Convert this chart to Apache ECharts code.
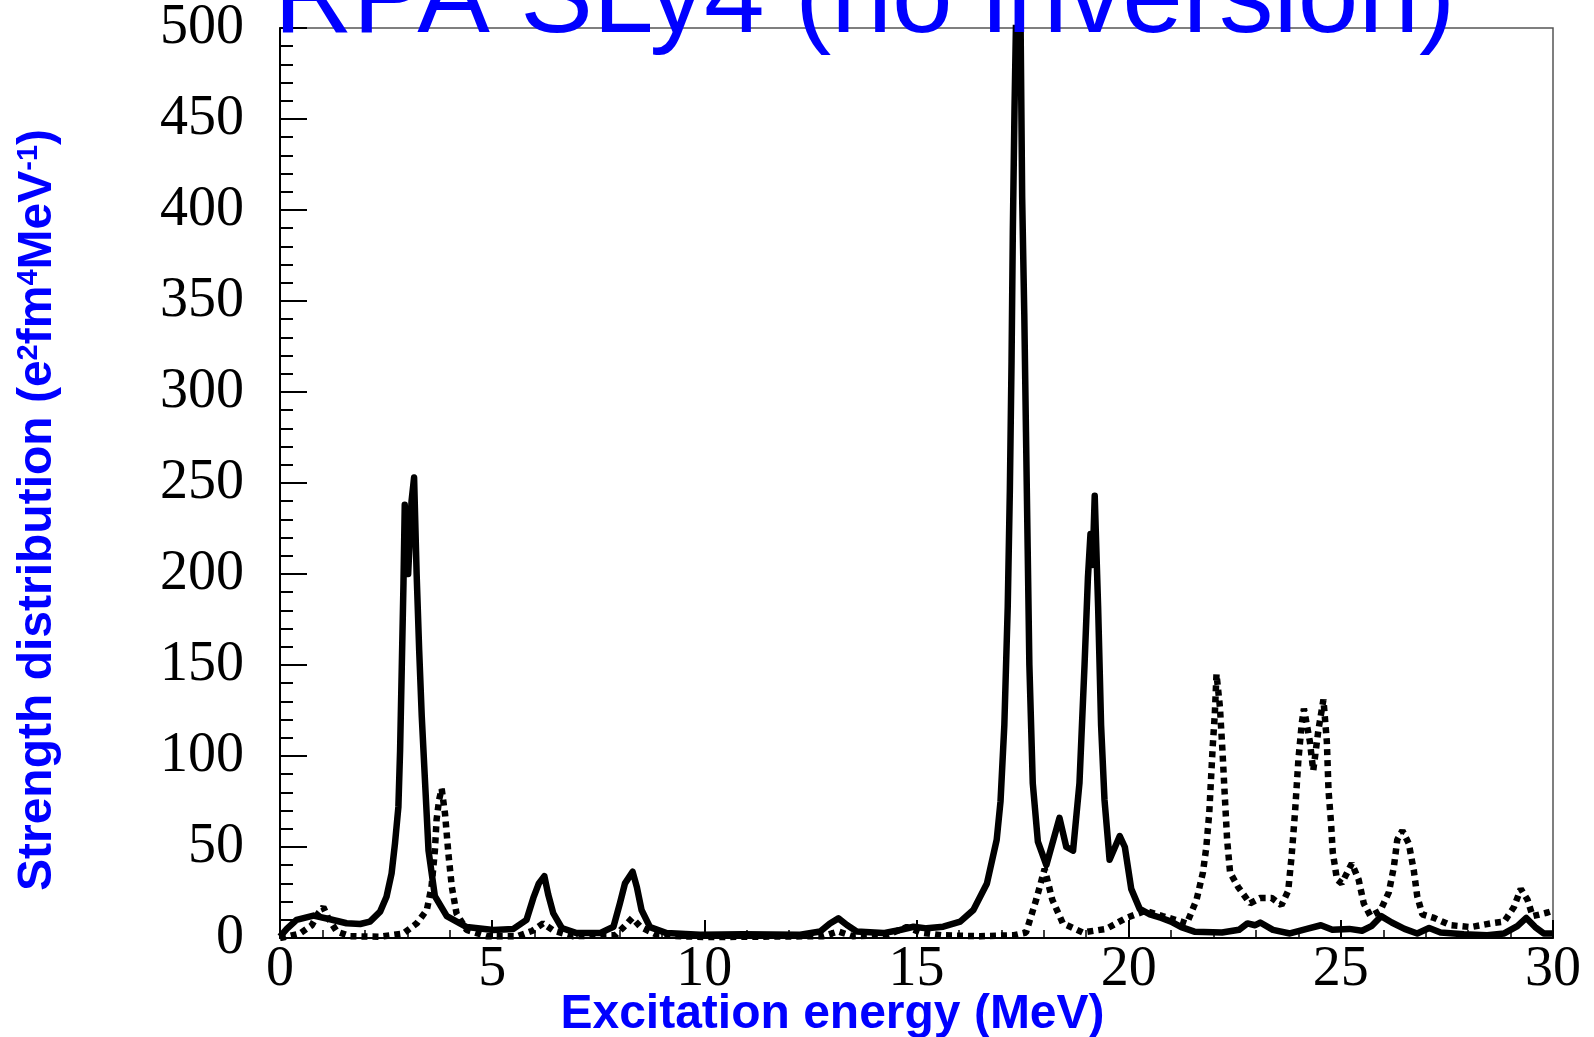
<!DOCTYPE html>
<html>
<head>
<meta charset="utf-8">
<title>RPA SLy4 (no inversion)</title>
<script src="https://cdn.jsdelivr.net/npm/echarts@6/dist/echarts.min.js"></script>
<style>
  html, body { margin: 0; padding: 0; background: #ffffff; }
  #chart { width: 1594px; height: 1037px; }
</style>
</head>
<body>
<div id="chart"></div>
<script>
// Strength distributions, energies in MeV, strengths in e^2 fm^4 MeV^-1
const solidEnergy = [
  0, 0.16, 0.39, 0.79, 1.18, 1.57, 1.89, 2.12, 2.36, 2.51, 2.63, 2.71, 2.79, 2.83, 2.87, 2.91, 2.94, 3.02, 3.1, 3.16,
  3.22, 3.28, 3.34, 3.42, 3.5, 3.65, 3.93, 4.4, 5.03, 5.5, 5.81, 5.97, 6.1, 6.23, 6.32, 6.44, 6.64, 6.99, 7.54, 7.86,
  8.01, 8.13, 8.31, 8.41, 8.52, 8.72, 9.11, 9.9, 10.9, 12.26, 12.73, 12.96, 13.16, 13.36, 13.59, 14.22, 14.61, 14.93, 15.24, 15.63,
  16.03, 16.34, 16.66, 16.89, 16.98, 17.07, 17.15, 17.2, 17.24, 17.27, 17.31, 17.35, 17.4, 17.45, 17.49, 17.54, 17.58, 17.62, 17.66, 17.74,
  17.86, 18.06, 18.37, 18.53, 18.69, 18.84, 18.96, 19.04, 19.1, 19.15, 19.2, 19.28, 19.35, 19.43, 19.55, 19.79, 19.91, 20.06, 20.26, 20.5,
  20.77, 21.0, 21.24, 21.55, 22.2, 22.6, 22.8, 22.98, 23.1, 23.4, 23.8, 24.2, 24.53, 24.8, 25.2, 25.5, 25.72, 25.95, 26.2, 26.5,
  26.8, 27.08, 27.35, 27.9, 28.45, 28.85, 29.16, 29.37, 29.58, 29.78, 30
];
const solidStrength = [
  0.7, 5, 10, 12.3, 10.3, 8.1, 7.7, 9, 14.5, 22.7, 35.5, 52, 72, 103, 149, 195, 238, 200, 240, 253,
  200, 158, 122, 85, 48, 23, 12, 6, 4.4, 5, 10, 22, 30, 34, 24, 13.6, 5.5, 2.7, 2.7, 6.2,
  19, 30, 36.4, 28, 15.4, 6, 2.7, 1.8, 2, 1.8, 3.6, 8, 10.8, 7.1, 3.6, 2.7, 4.4, 6.2, 5.3, 6.2,
  9, 15.4, 30, 54, 75, 117, 182, 246, 317, 388, 456, 510, 540, 510, 407, 343, 278, 214, 150, 85,
  53, 40, 66, 50, 48, 85, 150, 198, 222, 205, 243, 182, 117, 76, 43, 56, 50, 27, 16, 13,
  11, 9, 6, 3.5, 3, 4.5, 8, 7, 8.5, 4.5, 2.5, 5, 7, 4.5, 5, 4, 6.5, 12, 8.5, 5,
  2.5, 5.5, 3, 2, 1.5, 2.5, 6.5, 11, 6, 2.5, 2.5
];

const dottedEnergy = [
  0, 0.16, 0.47, 0.75, 0.9, 1.02, 1.14, 1.34, 1.65, 2.36, 2.91, 3.22, 3.46, 3.57, 3.65, 3.69, 3.75, 3.81, 3.89, 3.97,
  4.05, 4.16, 4.4, 4.87, 5.6, 5.95, 6.2, 6.45, 6.9, 7.9, 8.1, 8.3, 8.5, 8.9, 10, 12.8, 13.15, 13.5, 14.3, 14.77,
  15.1, 15.6, 16.5, 17.3, 17.58, 17.82, 18.02, 18.2, 18.45, 18.92, 19.47, 19.94, 20.4, 20.8, 21.1, 21.37, 21.6, 21.75, 21.83, 21.9,
  21.94, 21.98, 22.03, 22.07, 22.15, 22.21, 22.27, 22.32, 22.39, 22.58, 22.86, 23.1, 23.37, 23.6, 23.76, 23.84, 23.92, 24.0, 24.08, 24.13,
  24.27, 24.35, 24.47, 24.59, 24.67, 24.71, 24.77, 24.81, 24.91, 25.02, 25.26, 25.42, 25.54, 25.7, 25.93, 26.13, 26.25, 26.33, 26.45, 26.6,
  26.72, 26.8, 26.92, 27.2, 27.59, 28.06, 28.53, 28.85, 29.08, 29.24, 29.4, 29.52, 29.87, 30
];
const dottedStrength = [
  0, 0.7, 2.5, 7, 13.5, 17, 10.8, 3.5, 1, 0.7, 2.5, 8, 15.4, 28, 48, 65, 76, 82, 68, 46,
  28, 13.5, 4.4, 1, 1, 4, 8, 4, 1, 1.5, 6, 11, 6, 1.5, 0.5, 1, 3.6, 1, 1.5, 6,
  3, 1.5, 1, 1.5, 3, 21, 38, 21, 8, 3, 5, 11, 15, 12, 10, 8, 21, 36, 50, 69,
  87, 105, 123, 145, 127, 103, 76, 54, 36, 28, 19, 22, 22, 18, 26, 45, 69, 98, 118, 126,
  108, 92, 114, 131, 108, 81, 63, 47, 32, 30, 41, 32, 19, 12, 15, 25, 39, 54, 59, 52,
  37, 23, 13, 11, 7, 6, 8, 9, 17, 27, 21, 12, 14, 15
];

const xTicks = { min: 0, max: 30, step: 5 };
const yTicks = { min: 0, max: 500, step: 50 };

const pairs = (xs, ys) => xs.map((x, i) => [x, ys[i]]);

const BLUE = '#0000ff';
const serif = 'Liberation Serif';
const sans = 'Liberation Sans';

const chart = echarts.init(document.getElementById('chart'), null, { renderer: 'canvas' });

chart.setOption({
  animation: false,
  backgroundColor: '#ffffff',
  title: {
    text: 'RPA SLy4 (no inversion)',
    left: 274,
    top: -53,
    padding: 0,
    textStyle: { fontFamily: sans, fontSize: 109, fontWeight: 'normal', color: BLUE }
  },
  grid: {
    left: 280, right: 41, top: 28, bottom: 99,
    containLabel: false,
    outerBoundsMode: 'none',
    show: true, borderColor: '#555555', borderWidth: 1.5, backgroundColor: 'transparent'
  },
  xAxis: {
    type: 'value',
    min: xTicks.min, max: xTicks.max, interval: xTicks.step,
    name: 'Excitation energy (MeV)',
    nameLocation: 'middle',
    nameGap: 53,
    nameMoveOverlap: false,
    nameTextStyle: {
      fontFamily: sans, fontWeight: 'bold', fontSize: 48, color: BLUE,
      padding: [0, 168, 0, 0]
    },
    axisLine: { show: true, onZero: false, lineStyle: { color: '#000', width: 2 } },
    axisTick: { show: true, inside: true, length: 18, lineStyle: { color: '#000', width: 2 } },
    minorTick: { show: true, splitNumber: 5, length: 8, lineStyle: { color: '#000', width: 1.5 } },
    splitLine: { show: false },
    minorSplitLine: { show: false },
    axisLabel: { fontFamily: serif, fontSize: 56, color: '#000', margin: 4 }
  },
  yAxis: {
    type: 'value',
    min: yTicks.min, max: yTicks.max, interval: yTicks.step,
    name: 'Strength distribution (e{sup|2}fm{sup|4}MeV{sup|-1})',
    nameLocation: 'middle',
    nameRotate: 90,
    nameGap: 218,
    nameMoveOverlap: false,
    nameTextStyle: {
      fontFamily: sans, fontWeight: 'bold', fontSize: 48, color: BLUE,
      padding: [0, 54, 0, 0],
      rich: {
        sup: { fontFamily: sans, fontWeight: 'bold', fontSize: 29, color: BLUE, verticalAlign: 'top' }
      }
    },
    axisLine: { show: true, onZero: false, lineStyle: { color: '#000', width: 2 } },
    axisTick: { show: true, inside: true, length: 27, lineStyle: { color: '#000', width: 2 } },
    minorTick: { show: true, splitNumber: 5, length: 13, lineStyle: { color: '#000', width: 2 } },
    splitLine: { show: false },
    minorSplitLine: { show: false },
    axisLabel: { fontFamily: serif, fontSize: 56, color: '#000', margin: 36 }
  },
  series: [
    {
      name: 'dotted',
      type: 'line',
      data: pairs(dottedEnergy, dottedStrength),
      showSymbol: false,
      symbol: 'none',
      clip: true,
      z: 2,
      lineStyle: { color: '#000', width: 6.5, type: [6, 5], cap: 'butt' }
    },
    {
      name: 'solid',
      type: 'line',
      data: pairs(solidEnergy, solidStrength),
      showSymbol: false,
      symbol: 'none',
      clip: true,
      z: 3,
      lineStyle: { color: '#000', width: 6.5, join: 'round' }
    }
  ]
});
</script>
</body>
</html>
